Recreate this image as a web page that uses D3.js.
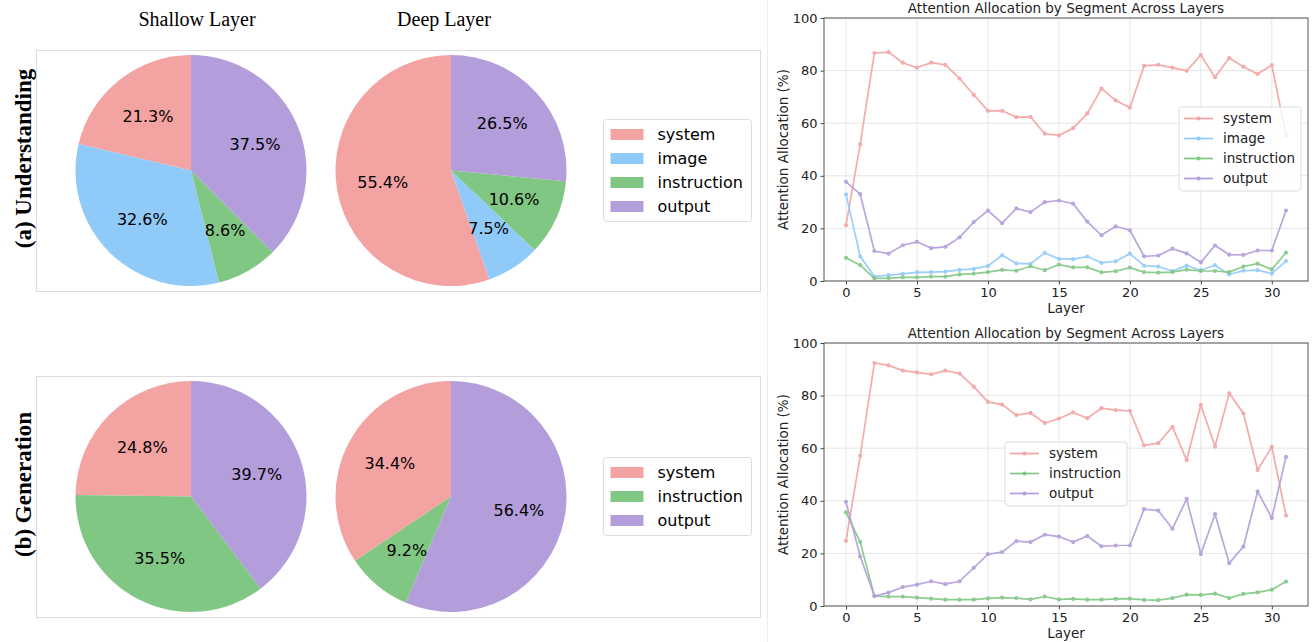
<!DOCTYPE html>
<html>
<head>
<meta charset="utf-8">
<script src="https://cdn.jsdelivr.net/npm/d3@7"></script>
<style>
  body { margin: 0; background: #fff; }
  svg { display: block; }
</style>
</head>
<body>
<svg id="chart" width="1316" height="642"></svg>
<script>
// ---- data ----
var segColors = {system: "#f4a3a3", image: "#90caf9", instruction: "#81c784", output: "#b39ddb"};

var undSegments = ["system", "image", "instruction", "output"];
var undShallow = [21.3, 32.6, 8.6, 37.5];
var undDeep = [55.4, 7.5, 10.6, 26.5];

var genSegments = ["system", "instruction", "output"];
var genShallow = [24.8, 35.5, 39.7];
var genDeep = [34.4, 9.2, 56.4];

var layers = d3.range(0, 32);

var undSystem = [21.2, 52.0, 86.7, 87.0, 83.0, 81.1, 83.0, 82.2, 77.0, 70.8, 64.7, 64.7, 62.3, 62.4, 56.0, 55.4,
                 58.1, 63.7, 73.2, 68.7, 65.9, 81.8, 82.2, 81.1, 79.9, 85.9, 77.5, 84.8, 81.5, 78.7, 82.1, 55.4];
var undImage = [32.9, 9.4, 1.7, 2.2, 2.7, 3.3, 3.4, 3.6, 4.2, 4.6, 5.7, 9.8, 6.7, 6.5, 10.7, 8.4,
                8.3, 9.3, 6.9, 7.5, 10.4, 5.8, 5.5, 3.8, 5.8, 4.1, 6.0, 2.5, 3.9, 4.1, 2.8, 7.6];
var undInstruction = [8.8, 6.0, 1.0, 1.1, 1.4, 1.4, 1.7, 1.7, 2.5, 2.8, 3.4, 4.2, 3.9, 5.6, 4.1, 6.2,
                      5.2, 5.2, 3.3, 3.7, 5.1, 3.4, 3.2, 3.4, 4.3, 3.8, 3.8, 3.4, 5.5, 6.6, 4.4, 10.8];
var undOutput = [37.7, 33.0, 11.4, 10.4, 13.6, 14.9, 12.5, 13.0, 16.6, 22.4, 26.8, 22.0, 27.6, 26.2, 30.0, 30.6,
                 29.4, 22.6, 17.4, 20.8, 19.3, 9.4, 9.7, 12.3, 10.5, 7.1, 13.5, 10.0, 9.9, 11.6, 11.6, 26.8];

var genSystem = [24.8, 57.1, 92.4, 91.5, 89.5, 88.8, 88.1, 89.5, 88.4, 83.4, 77.6, 76.6, 72.6, 73.4, 69.6, 71.3,
                 73.6, 71.4, 75.2, 74.5, 74.2, 61.1, 61.9, 68.1, 55.5, 76.4, 60.7, 80.9, 73.2, 51.7, 60.5, 34.4];
var genInstruction = [35.6, 24.3, 3.8, 3.6, 3.6, 3.2, 2.8, 2.4, 2.4, 2.4, 2.9, 3.2, 3.0, 2.5, 3.6, 2.5,
                      2.7, 2.4, 2.4, 2.7, 2.8, 2.3, 2.2, 3.0, 4.3, 4.2, 4.7, 3.0, 4.6, 5.2, 6.2, 9.3];
var genOutput = [39.6, 18.8, 3.8, 5.1, 7.2, 8.1, 9.4, 8.3, 9.4, 14.5, 19.7, 20.5, 24.7, 24.3, 27.1, 26.4,
                 24.3, 26.6, 22.7, 23.0, 23.1, 36.8, 36.3, 29.4, 40.7, 19.8, 34.9, 16.3, 22.6, 43.5, 33.5, 56.7];

var xTicks = [0, 5, 10, 15, 20, 25, 30];
var yTicks = [0, 20, 40, 60, 80, 100];

// ---- drawing ----
var svg = d3.select("#chart");
var sans = "'DejaVu Sans', sans-serif";
var serif = "'Liberation Serif', 'Times New Roman', serif";

// column titles
svg.append("text").attr("x", 197).attr("y", 26).attr("text-anchor", "middle")
    .style("font", "20px " + serif).text("Shallow Layer");
svg.append("text").attr("x", 444).attr("y", 26).attr("text-anchor", "middle")
    .style("font", "20px " + serif).text("Deep Layer");

// faint divider between panels
svg.append("line").attr("x1", 767.5).attr("x2", 767.5).attr("y1", 0).attr("y2", 642)
    .attr("stroke", "#ececec").attr("stroke-width", 1);

function pieRow(top, label, segments, shallow, deep) {
    var boxH = 241, cy = top + boxH / 2, r = 115.5;
    svg.append("rect").attr("x", 36.5).attr("y", top + 0.5).attr("width", 724).attr("height", boxH)
        .attr("fill", "none").attr("stroke", "#dcdcdc");

    svg.append("text")
        .attr("transform", "translate(" + 31 + "," + (cy - 12) + ") rotate(-90)")
        .attr("text-anchor", "middle")
        .style("font", "bold 23px " + serif)
        .text(label);

    var pie = d3.pie().sort(null).startAngle(0).endAngle(-2 * Math.PI);
    var arc = d3.arc().innerRadius(0).outerRadius(r);
    var labelArc = d3.arc().innerRadius(r * 0.6).outerRadius(r * 0.6);

    [[191, shallow], [451, deep]].forEach(function (p) {
        var g = svg.append("g").attr("transform", "translate(" + p[0] + "," + cy + ")");
        var arcs = pie(p[1]);
        g.selectAll("path").data(arcs).join("path")
            .attr("d", arc)
            .attr("fill", function (d, i) { return segColors[segments[i]]; });
        g.selectAll("text").data(arcs).join("text")
            .attr("transform", function (d) { return "translate(" + labelArc.centroid(d) + ")"; })
            .attr("text-anchor", "middle")
            .attr("dy", "0.35em")
            .style("font", "16px " + sans)
            .text(function (d) { return d.data.toFixed(1) + "%"; });
    });

    // legend
    var lh = segments.length * 24 + 6;
    var ly = cy - lh / 2;
    var lg = svg.append("g").attr("transform", "translate(603.5," + ly + ")");
    lg.append("rect").attr("width", 148).attr("height", lh).attr("rx", 3)
        .attr("fill", "#fff").attr("stroke", "#dcdcdc");
    segments.forEach(function (s, i) {
        var yy = 15 + i * 24;
        lg.append("rect").attr("x", 7).attr("y", yy - 5.5).attr("width", 33).attr("height", 11)
            .attr("fill", segColors[s]);
        lg.append("text").attr("x", 54).attr("y", yy).attr("dy", "0.35em")
            .style("font", "16px " + sans).text(s);
    });
}

pieRow(50, "(a) Understanding", undSegments, undShallow, undDeep);
pieRow(376, "(b) Generation", genSegments, genShallow, genDeep);

function lineChart(top, bottom, series, legendPos) {
    var left = 824, right = 1308;
    var x = d3.scaleLinear().domain([-1.55, 32.55]).range([left, right]);
    var y = d3.scaleLinear().domain([0, 100]).range([bottom, top]);
    var g = svg.append("g");

    // grid
    g.append("g").selectAll("line").data(xTicks).join("line")
        .attr("x1", function (d) { return x(d); }).attr("x2", function (d) { return x(d); })
        .attr("y1", top).attr("y2", bottom).attr("stroke", "#e6e6e6");
    g.append("g").selectAll("line").data(yTicks).join("line")
        .attr("x1", left).attr("x2", right)
        .attr("y1", function (d) { return y(d); }).attr("y2", function (d) { return y(d); })
        .attr("stroke", "#e6e6e6");

    // axes
    var xa = g.append("g").attr("transform", "translate(0," + bottom + ")")
        .call(d3.axisBottom(x).tickValues(xTicks).tickSize(3.5).tickPadding(3));
    var ya = g.append("g").attr("transform", "translate(" + left + ",0)")
        .call(d3.axisLeft(y).tickValues(yTicks).tickSize(3.5).tickPadding(3));
    [xa, ya].forEach(function (a) {
        a.select(".domain").remove();
        a.selectAll("line").attr("stroke", "#444");
        a.selectAll("text").style("font", "13px " + sans).attr("fill", "#222");
    });

    g.append("rect").attr("x", left).attr("y", top).attr("width", right - left).attr("height", bottom - top)
        .attr("fill", "none").attr("stroke", "#555").attr("stroke-width", 1);

    var line = d3.line().x(function (d, i) { return x(layers[i]); }).y(function (d) { return y(d); });
    series.forEach(function (s) {
        var c = segColors[s.name];
        var sg = g.append("g").attr("opacity", 0.9);
        sg.append("path").datum(s.values).attr("d", line)
            .attr("fill", "none").attr("stroke", c).attr("stroke-width", 1.7);
        sg.selectAll("circle").data(s.values).join("circle")
            .attr("cx", function (d, i) { return x(layers[i]); })
            .attr("cy", function (d) { return y(d); })
            .attr("r", 2.1).attr("fill", c);
    });

    // title and labels
    svg.append("text").attr("x", (left + right) / 2).attr("y", top - 5).attr("text-anchor", "middle")
        .style("font", "13.5px " + sans).attr("fill", "#222").text("Attention Allocation by Segment Across Layers");
    svg.append("text").attr("x", (left + right) / 2).attr("y", bottom + 32).attr("text-anchor", "middle")
        .style("font", "13.5px " + sans).attr("fill", "#222").text("Layer");
    svg.append("text")
        .attr("transform", "translate(788," + (top + bottom) / 2 + ") rotate(-90)")
        .attr("text-anchor", "middle")
        .style("font", "13.5px " + sans).attr("fill", "#222").text("Attention Allocation (%)");

    // legend
    var lh = series.length * 20 + 4;
    var lg = svg.append("g").attr("transform", "translate(" + legendPos[0] + "," + legendPos[1] + ")");
    lg.append("rect").attr("width", 122).attr("height", lh).attr("rx", 3)
        .attr("fill", "rgba(255,255,255,0.8)").attr("stroke", "#dcdcdc");
    series.forEach(function (s, i) {
        var yy = 11.5 + i * 20;
        var c = segColors[s.name];
        lg.append("line").attr("x1", 5).attr("x2", 34).attr("y1", yy).attr("y2", yy)
            .attr("stroke", c).attr("stroke-width", 1.7);
        lg.append("circle").attr("cx", 19.5).attr("cy", yy).attr("r", 2.1).attr("fill", c);
        lg.append("text").attr("x", 44).attr("y", yy).attr("dy", "0.35em")
            .style("font", "13.5px " + sans).attr("fill", "#222").text(s.name);
    });
}

lineChart(18, 281, [
    {name: "system", values: undSystem},
    {name: "image", values: undImage},
    {name: "instruction", values: undInstruction},
    {name: "output", values: undOutput}
], [1179, 107]);

lineChart(343, 606, [
    {name: "system", values: genSystem},
    {name: "instruction", values: genInstruction},
    {name: "output", values: genOutput}
], [1005, 442]);
</script>
</body>
</html>
